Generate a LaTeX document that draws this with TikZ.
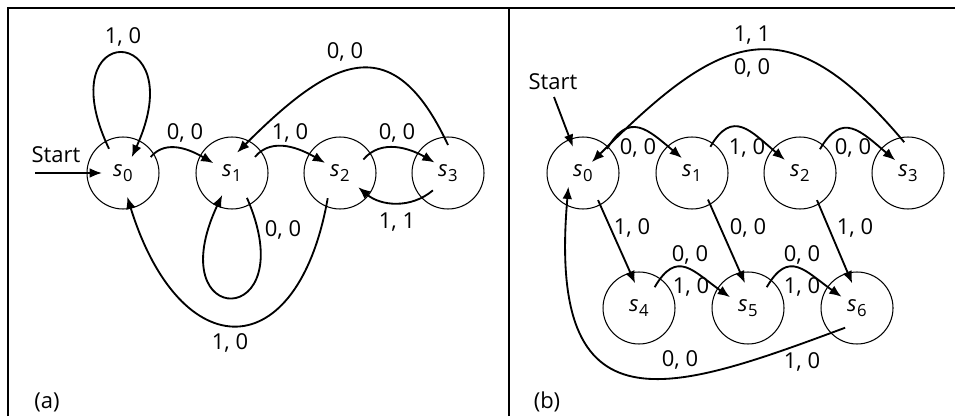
\documentclass[tikz,border=0pt]{standalone}
\usepackage{fontspec}
\setmainfont{Open Sans}
\usetikzlibrary{arrows.meta,calc}
\newcommand{\sn}[1]{\textit{s}\kern0.3pt\raisebox{-3.2pt}{\fontsize{9.5}{10}\selectfont #1}}

\begin{document}
\begin{tikzpicture}[
    x=0.02cm, y=0.02cm,
    state/.style={circle, draw, line width=0.6pt, minimum size=1.44cm,
                  inner sep=0pt},
    trans/.style={line width=1.05pt, -{Latex[length=7pt,width=5.5pt]}},
    every node/.style={font=\fontsize{12.5}{14}\selectfont}
  ]
  \useasboundingbox (0,0) rectangle (955,416);

  % ---- Frame ----
  \draw[line width=0.7pt] (8,0) -- (8,408) -- (955,408);
  \draw[line width=0.7pt] (509,0) -- (509,408);

  % ============ LEFT: machine (a) ============

  \node[state] (L0) at (123,243) {\sn{0}};
  \node[state] (L1) at (232,243) {\sn{1}};
  \node[state] (L2) at (340,243) {\sn{2}};
  \node[state] (L3) at (448,243) {\sn{3}};

  % start arrow
  \coordinate (Lin) at (35,243);
  \node (Lstart) at (56,261) {Start};
  \draw[trans] (Lin) -- ($(L0)+(180:21)$);

  % loop on s0
  \draw[trans] ($(L0)+(120:28)$) .. controls +(-62,130) and +(62,136)
    .. ($(L0)+(61:18)$);
  \node (Lt00) at (123,379) {1, 0};

  % along the row
  \draw[trans] ($(L0)+(30:32)$) to[out=50,in=150] ($(L1)+(152:21)$);
  \node (Lt01) at (185,283) {0, 0};
  \draw[trans] ($(L1)+(35:28)$) to[out=50,in=150] ($(L2)+(146:18)$);
  \node (Lt12) at (290,283) {1, 0};
  \draw[trans] ($(L2)+(30:27)$) to[out=50,in=150] ($(L3)+(142:17)$);
  \node (Lt23) at (397,283) {0, 0};

  % back from s3
  \draw[trans] ($(L3)+(229:23)$) to[out=-140,in=-40] ($(L2)+(-38:23)$);
  \node (Lt32) at (397,194) {1, 1};
  \draw[trans] ($(L3)+(90:28)$) to[out=115,in=45,looseness=1.6]
    ($(L1)+(76:21)$);
  \node (Lt31) at (345,364) {0, 0};

  % loop on s1
  \draw[trans] ($(L1)+(-59:29)$) .. controls +(58,-133) and +(-64,-136)
    .. ($(L1)+(246:24)$);
  \node (Lt11) at (283,186) {0, 0};

  % s2 back to s0
  \draw[trans] ($(L2)+(244:28)$) .. controls +(-30,-170) and +(53,-171)
    .. ($(L0)+(-80:24)$);
  \node (Lt20) at (230,73) {1, 0};

  \node (La) at (47,14) {(a)};

  % ============ RIGHT: machine (b) ============

  \node[state] (R0) at (583,243) {\sn{0}};
  \node[state] (R1) at (692,243) {\sn{1}};
  \node[state] (R2) at (800,243) {\sn{2}};
  \node[state] (R3) at (908,243) {\sn{3}};
  \node[state] (R4) at (639,108) {\sn{4}};
  \node[state] (R5) at (748,108) {\sn{5}};
  \node[state] (R6) at (857,108) {\sn{6}};

  % start arrow
  \coordinate (Rin) at (554,319);
  \node (Rstart) at (553,334) {Start};
  \draw[trans] (Rin) -- ($(R0)+(111:28)$);

  % top row
  \draw[trans] ($(R0)+(45:34)$) to[out=60,in=140,looseness=1.5]
    ($(R1)+(124:18)$);
  \node (Rt01) at (638,268) {0, 0};
  \draw[trans] ($(R1)+(55:32)$) to[out=60,in=140,looseness=1.5]
    ($(R2)+(139:20)$);
  \node (Rt12) at (747,268) {1, 0};
  \draw[trans] ($(R2)+(50:31)$) to[out=60,in=140,looseness=1.5]
    ($(R3)+(135:18)$);
  \node (Rt23) at (853,268) {0, 0};

  % s3 back to s0
  \draw[trans] ($(R3)+(97:31)$) to[out=130,in=45,looseness=1.5]
    ($(R0)+(51:14)$);
  \node (Rt30a) at (752,381) {1, 1};
  \node (Rt30b) at (752,348) {0, 0};

  % down to the bottom row
  \draw[trans] ($(R0)+(-61:31)$) -- ($(R4)+(99:25)$);
  \node (Rt04) at (632,188) {1, 0};
  \draw[trans] ($(R1)+(-59:31)$) -- ($(R5)+(97:25)$);
  \node (Rt15) at (748,188) {0, 0};
  \draw[trans] ($(R2)+(-58:32)$) -- ($(R6)+(101:25)$);
  \node (Rt26) at (855,188) {1, 0};

  % bottom row
  \draw[trans] ($(R4)+(53:26)$) to[out=60,in=145,looseness=1.5]
    ($(R5)+(149:21)$);
  \node (Rt45a) at (690,161) {0, 0};
  \node (Rt45b) at (691,129) {1, 0};
  \draw[trans] ($(R5)+(48:28)$) to[out=60,in=145,looseness=1.5]
    ($(R6)+(144:19)$);
  \node (Rt56a) at (802,161) {0, 0};
  \node (Rt56b) at (802,129) {1, 0};

  % s6 back to s0
  \draw[trans] ($(R6)+(239:23)$) .. controls +(-175,-65) and +(-22,-250)
    .. ($(R0)+(223:20)$);
  \node (Rt60a) at (680,56) {0, 0};
  \node (Rt60b) at (802,54) {1, 0};

  \node (Rb) at (547,14) {(b)};

\end{tikzpicture}
\end{document}
